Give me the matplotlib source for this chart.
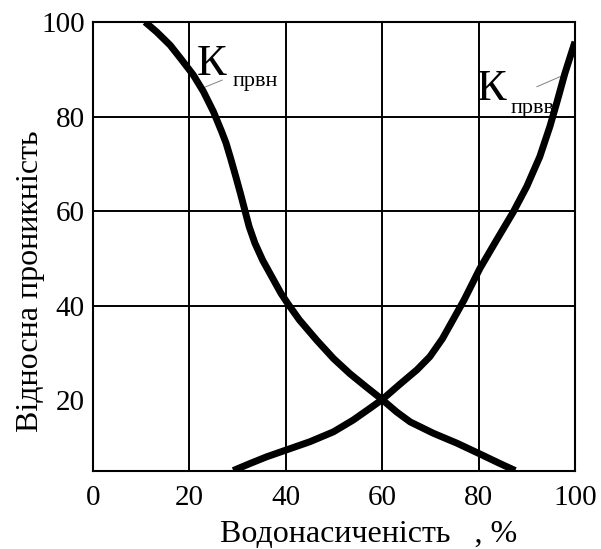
import matplotlib
matplotlib.use("Agg")
import matplotlib.pyplot as plt

plt.rcParams['font.family'] = ['Liberation Serif', 'DejaVu Serif']

# K_првн curve (decreasing)
x_n = [10.8, 13.2, 16.0, 18.4, 20.8, 22.9, 25.0, 26.7, 27.6, 28.6, 29.6, 30.6,
       31.5, 32.4, 33.6, 35.2, 37.1, 39.0, 40.5, 42.8, 46.4, 49.9, 53.3, 56.8,
       59.9, 63.0, 65.8, 70.6, 75.5, 80.3, 84.4, 87.6]
y_n = [100.0, 97.9, 95.1, 92.0, 88.8, 85.3, 81.0, 76.8, 74.4, 71.0, 67.4, 63.7,
       60.2, 56.7, 53.2, 49.6, 46.1, 42.6, 40.3, 37.0, 32.7, 28.8, 25.6, 22.7,
       20.2, 17.5, 15.4, 13.0, 10.9, 8.6, 6.6, 5.1]

# K_првв curve (increasing)
x_v = [29.1, 32.6, 36.0, 40.5, 45.0, 49.9, 54.0, 57.5, 60.1, 63.6, 67.2, 69.9,
       72.5, 74.7, 77.0, 80.3, 83.7, 87.2, 90.0, 92.7, 94.8, 96.3, 97.9, 100.0]
y_v = [5.1, 6.6, 8.0, 9.6, 11.2, 13.3, 15.8, 18.3, 20.2, 23.3, 26.4, 29.2,
       33.0, 37.0, 41.2, 47.9, 53.8, 59.8, 65.2, 71.5, 77.9, 83.2, 89.1, 95.8]

x_ticks = [0, 20, 40, 60, 80, 100]
y_ticks = [20, 40, 60, 80, 100]

fig = plt.figure(figsize=(6.01, 5.49), dpi=100)
ax = fig.add_axes([0.1547, 0.142, 0.802, 0.818])

for v in [20, 40, 60, 80]:
    ax.axvline(v, color='black', lw=1.4, zorder=1)
for v in [40, 60, 80]:
    ax.axhline(v, color='black', lw=1.4, zorder=1)

ax.plot(x_n, y_n, color='black', lw=5, solid_capstyle='butt', solid_joinstyle='round', zorder=3)
ax.plot(x_v, y_v, color='black', lw=5, solid_capstyle='butt', solid_joinstyle='round', zorder=3)

# curve labels with leader lines
ax.plot([23.2, 26.8], [86.2, 87.7], color='gray', lw=0.7, zorder=2)
ax.text(21.6, 88.8, 'К', fontsize=32, ha='left', va='baseline')
ax.text(28.9, 86.5, 'првн', fontsize=16, ha='left', va='baseline')
ax.plot([92.1, 97.3], [86.3, 88.6], color='gray', lw=0.7, zorder=2)
ax.text(79.6, 83.5, 'К', fontsize=32, ha='left', va='baseline')
ax.text(86.7, 80.7, 'првв', fontsize=16, ha='left', va='baseline')

ax.set_xlim(0, 100)
ax.set_ylim(5, 100)
ax.set_xticks(x_ticks)
ax.set_yticks(y_ticks)
ax.tick_params(length=0, labelsize=21, pad=6)
ax.tick_params(axis='x', pad=10)
for s in ax.spines.values():
    s.set_linewidth(1.5)

ax.set_xlabel('Водонасиченість   , %', fontsize=23)
ax.xaxis.label.set_va('baseline')
ax.xaxis.set_label_coords(0.5716, -0.158)
ax.set_ylabel('Відносна проникність', fontsize=23)
ax.yaxis.set_label_coords(-0.10, 0.422)

fig.savefig('out.png', dpi=100)
